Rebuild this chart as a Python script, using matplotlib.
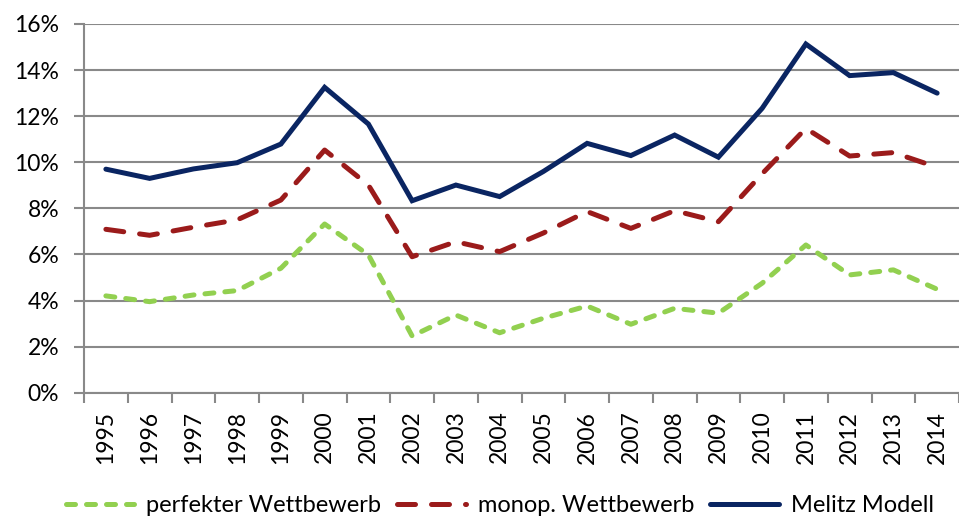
import numpy as np
import matplotlib
matplotlib.use("Agg")
import matplotlib.pyplot as plt
from matplotlib.ticker import PercentFormatter, FixedLocator

years = [str(y) for y in range(1995, 2015)]
perfekt = [4.20, 3.95, 4.24, 4.43, 5.40, 7.32, 5.98, 2.46, 3.37, 2.60,
           3.23, 3.76, 2.97, 3.66, 3.45, 4.75, 6.41, 5.11, 5.33, 4.49]
monop = [7.09, 6.83, 7.18, 7.50, 8.36, 10.53, 9.01, 5.90, 6.55, 6.12,
         6.93, 7.86, 7.13, 7.90, 7.42, 9.50, 11.47, 10.27, 10.42, 9.78]
melitz = [9.70, 9.30, 9.71, 9.98, 10.79, 13.25, 11.66, 8.33, 9.01, 8.51,
          9.60, 10.82, 10.29, 11.18, 10.22, 12.34, 15.13, 13.76, 13.89, 13.00]

plt.rcParams['font.family'] = ['Lato', 'DejaVu Sans']

fig = plt.figure(figsize=(9.59, 5.16), dpi=100)
ax = fig.add_axes([0.0876, 0.239, 0.9124, 0.7145])

x = np.arange(len(years))
grid_c = "#898989"

ax.plot(x, perfekt, color="#92D050", lw=3.6, dashes=(1.8, 2.2),
        dash_capstyle="round", solid_capstyle="round", label="perfekter Wettbewerb")
ax.plot(x, monop, color="#9B1B1B", lw=3.6, dashes=(3.6, 3.2),
        dash_capstyle="round", label="monop. Wettbewerb")
ax.plot(x, melitz, color="#0A2562", lw=3.6, solid_capstyle="round",
        solid_joinstyle="miter", label="Melitz Modell")

ax.set_xlim(-0.5, len(years) - 0.5)
ax.set_ylim(0, 16)
ax.set_yticks(np.arange(0, 17, 2))
ax.yaxis.set_major_formatter(PercentFormatter(decimals=0))
ax.grid(axis="y", color=grid_c, lw=1.5)
ax.set_axisbelow(True)

ax.set_xticks(x)
ax.set_xticklabels(years, rotation=90)
ax.xaxis.set_minor_locator(FixedLocator(np.arange(-0.5, len(years), 1)))
ax.tick_params(axis="x", which="major", length=0, pad=13, labelsize=16.5)
ax.tick_params(axis="x", which="minor", length=7, width=1.5, color=grid_c)
ax.tick_params(axis="y", length=7, width=1.5, color=grid_c, pad=11, labelsize=16.5)

for s in ["top", "right"]:
    ax.spines[s].set_visible(False)
for s in ["left", "bottom"]:
    ax.spines[s].set_color(grid_c)
    ax.spines[s].set_linewidth(1.5)

fig.legend(loc="center", bbox_to_anchor=(0.521, 0.02), ncol=3, frameon=False,
           fontsize=17, handlelength=2.9, columnspacing=0.7, handletextpad=0.5)

fig.savefig("out.png", dpi=100)
